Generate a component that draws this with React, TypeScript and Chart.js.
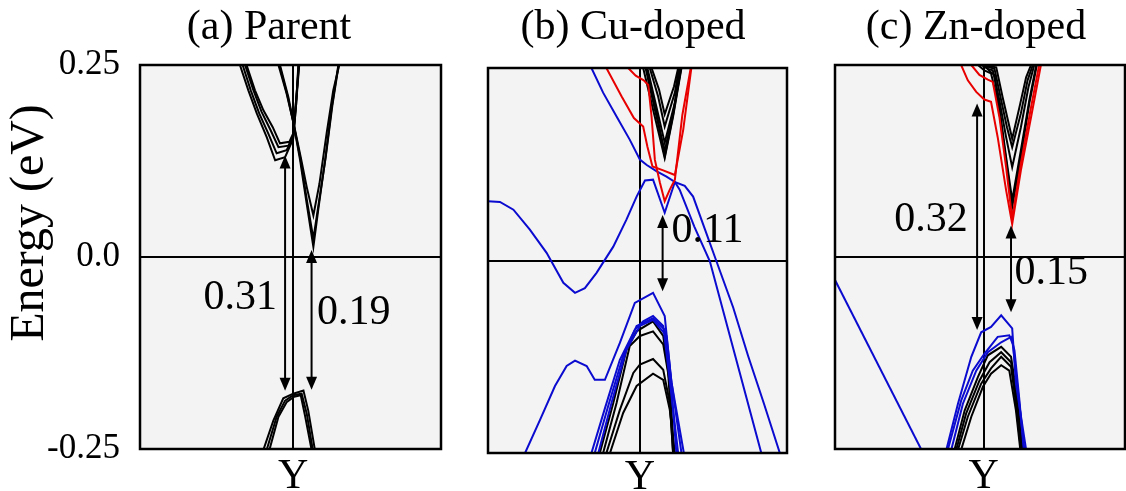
import React, { useEffect, useRef } from "react";
import { Chart, registerables } from "chart.js";

Chart.register(...registerables);

type Pt = [number, number];

// ---------- text / ticks ----------
const panelTitles = ["(a) Parent", "(b) Cu-doped", "(c) Zn-doped"];
const energyTicks = [0.25, 0, -0.25];
const energyTickLabels = ["0.25", "0.0", "-0.25"];
const kPointLabel = "Y";
const yAxisTitle = "Energy (eV)";
// position of the Y point on each panel's k-axis (k runs 0..100)
const kYPoint = [50.9, 50.8, 51.3];

// ---------- (a) Parent ----------
const parentCB_A1: Pt[] = [[46.0, 0.25], [48.7, 0.213], [50.9, 0.176], [53.2, 0.126], [55.4, 0.069], [57.6, 0.013], [59.2, 0.061], [61.5, 0.126], [63.7, 0.195], [65.9, 0.25]];
const parentCB_A2: Pt[] = [[46.3, 0.25], [49.0, 0.21], [51.0, 0.174], [53.3, 0.128], [55.4, 0.075], [57.6, 0.024], [59.3, 0.068], [61.7, 0.13], [63.9, 0.197], [66.0, 0.25]];
const parentCB_A3: Pt[] = [[46.5, 0.25], [49.3, 0.208], [51.2, 0.171], [53.4, 0.13], [55.4, 0.091], [57.6, 0.054], [59.6, 0.095], [62.0, 0.161], [64.2, 0.217], [66.2, 0.25]];
const parentCB_B1: Pt[] = [[33.2, 0.25], [36.0, 0.217], [38.8, 0.187], [42.1, 0.156], [44.9, 0.126], [48.2, 0.13], [50.9, 0.154], [51.7, 0.191], [52.4, 0.226], [52.9, 0.25]];
const parentCB_B2: Pt[] = [[34.1, 0.25], [36.8, 0.217], [39.6, 0.187], [42.6, 0.161], [45.4, 0.135], [48.7, 0.139], [50.9, 0.156], [51.9, 0.2], [52.6, 0.25]];
const parentCB_B3: Pt[] = [[34.9, 0.25], [37.7, 0.217], [40.4, 0.189], [43.4, 0.165], [46.0, 0.143], [49.3, 0.145], [50.9, 0.158], [52.0, 0.21], [52.7, 0.25]];
const parentCB_B4: Pt[] = [[35.4, 0.25], [38.2, 0.217], [41.0, 0.191], [44.1, 0.169], [46.5, 0.148], [49.6, 0.15], [50.9, 0.161], [52.1, 0.215], [52.8, 0.25]];
const parentVB_1: Pt[] = [[41.0, -0.251], [44.3, -0.213], [47.6, -0.184], [50.9, -0.178], [54.3, -0.174], [55.9, -0.2], [58.1, -0.251]];
const parentVB_2: Pt[] = [[42.1, -0.251], [45.4, -0.208], [48.2, -0.187], [50.9, -0.18], [53.7, -0.178], [55.4, -0.204], [57.4, -0.251]];
const parentVB_3: Pt[] = [[43.0, -0.251], [46.0, -0.208], [48.7, -0.189], [51.2, -0.182], [53.4, -0.18], [54.8, -0.206], [57.0, -0.251]];
// gap arrows: [k, E top, E bottom]
const parentGaps: [number, number, number][] = [[48.2, 0.132, -0.174], [57.0, 0.009, -0.173]];
const parentGapText = ["0.31", "0.19"];
// gap labels: [k anchor, E centre]
const parentGapPos: Pt[] = [[45.5, -0.053], [58.8, -0.073]];

// ---------- (b) Cu-doped ----------
const cuBlue1: Pt[] = [[0, 0.078], [4.0, 0.077], [8.5, 0.067], [14.0, 0.041], [19.6, 0.011], [25.2, -0.028], [29.1, -0.041], [32.4, -0.035], [36.3, -0.015], [41.9, 0.019], [46.3, 0.054], [49.7, 0.084], [52.5, 0.105], [55.2, 0.106], [59.1, 0.063], [62.5, 0.103], [65.8, 0.098], [68.6, 0.084], [72.5, 0.042], [76.4, 0], [82.0, -0.06], [87.0, -0.123], [92.3, -0.185], [97.6, -0.249]];
const cuBlue2: Pt[] = [[34.6, 0.251], [38.5, 0.219], [43.0, 0.188], [47.4, 0.158], [50.8, 0.132], [53.1, 0.125], [56.3, 0.117], [59.7, 0.11], [62.5, 0.103], [64.1, 0.093], [69.0, 0.045], [74.2, 0], [83.1, -0.129], [91.4, -0.249]];
const cuRed1: Pt[] = [[39.6, 0.251], [44.7, 0.214], [48.8, 0.186], [51.9, 0.175], [53.3, 0.149], [55.0, 0.123], [58.6, 0.118], [62.5, 0.112], [65.3, 0.171], [68.0, 0.251]];
const cuRed2: Pt[] = [[46.9, 0.251], [49.4, 0.241], [52.1, 0.235], [53.6, 0.229], [54.7, 0.188], [55.8, 0.132], [57.5, 0.102], [59.1, 0.078], [60.8, 0.093], [62.5, 0.106], [65.0, 0.19], [67.8, 0.251]];
const cuBlackCB1: Pt[] = [[51.9, 0.251], [55.2, 0.197], [59.1, 0.134], [61.9, 0.188], [64.7, 0.251]];
const cuBlackCB2: Pt[] = [[52.7, 0.251], [55.8, 0.197], [59.1, 0.143], [62.1, 0.197], [64.5, 0.251]];
const cuBlackCB3: Pt[] = [[53.3, 0.251], [56.3, 0.201], [59.1, 0.154], [62.5, 0.206], [64.1, 0.251]];
const cuBlackCB4: Pt[] = [[54.1, 0.251], [56.9, 0.214], [59.1, 0.175], [62.5, 0.219], [63.9, 0.251]];
const cuBlackCB5: Pt[] = [[54.7, 0.251], [57.2, 0.223], [59.1, 0.191], [62.2, 0.227], [63.6, 0.251]];
const cuBlackCB6: Pt[] = [[53.0, 0.251], [56.1, 0.199], [59.1, 0.136], [62.0, 0.192], [64.6, 0.251]];
const cuBlackVB1: Pt[] = [[37.4, -0.249], [41.9, -0.184], [46.3, -0.115], [49.7, -0.091], [55.2, -0.078], [58.6, -0.097], [60.2, -0.141], [61.9, -0.249]];
const cuBlackVB2: Pt[] = [[38.5, -0.249], [43.0, -0.184], [47.4, -0.11], [50.8, -0.097], [55.2, -0.091], [58.6, -0.108], [60.8, -0.158], [62.2, -0.249]];
const cuBlackVB3: Pt[] = [[39.6, -0.249], [44.1, -0.193], [48.6, -0.145], [50.8, -0.134], [55.2, -0.127], [58.6, -0.141], [60.8, -0.184], [61.9, -0.249]];
const cuBlackVB4: Pt[] = [[40.8, -0.249], [45.2, -0.197], [49.7, -0.162], [55.2, -0.146], [58.6, -0.154], [60.8, -0.193], [62.5, -0.249]];
const cuBlueVB1: Pt[] = [[12.4, -0.249], [17.4, -0.206], [22.4, -0.162], [26.3, -0.136], [29.1, -0.129], [33.0, -0.136], [35.7, -0.154], [39.1, -0.154], [44.1, -0.106], [49.1, -0.054], [55.2, -0.041], [59.1, -0.071], [60.8, -0.136], [63.0, -0.249]];
const cuBlueVB2: Pt[] = [[34.6, -0.249], [39.1, -0.191], [44.1, -0.128], [49.1, -0.089], [51.9, -0.078], [55.2, -0.071], [58.6, -0.084], [60.2, -0.136], [63.6, -0.249]];
const cuBlueVB3: Pt[] = [[35.7, -0.249], [40.2, -0.188], [45.2, -0.123], [49.7, -0.084], [55.2, -0.074], [59.1, -0.089], [60.8, -0.141], [64.7, -0.249]];
const cuBlueVB4: Pt[] = [[36.9, -0.249], [41.3, -0.184], [46.3, -0.115], [50.8, -0.084], [55.2, -0.076], [59.7, -0.097], [61.4, -0.158], [65.5, -0.249]];
const cuGaps: [number, number, number][] = [[58.4, 0.06, -0.039]];
const cuGapText = ["0.11"];
const cuGapPos: Pt[] = [[61.4, 0.039]];

// ---------- (c) Zn-doped ----------
const znRed1: Pt[] = [[43.5, 0.25], [45.8, 0.23], [48.7, 0.215], [51.5, 0.205], [53.8, 0.202], [56.1, 0.156], [59.0, 0.087], [61.1, 0.043], [64.1, 0.113], [67.6, 0.182], [71.0, 0.25]];
const znRed2: Pt[] = [[47.0, 0.25], [49.8, 0.237], [52.7, 0.231], [54.4, 0.228], [56.7, 0.182], [59.0, 0.117], [61.1, 0.05], [64.1, 0.122], [67.6, 0.195], [70.4, 0.25]];
const znBlackCB1: Pt[] = [[49.3, 0.25], [51.5, 0.243], [53.8, 0.239], [56.1, 0.204], [59.0, 0.126], [61.1, 0.065], [64.1, 0.13], [67.0, 0.2], [69.6, 0.25]];
const znBlackCB2: Pt[] = [[50.4, 0.25], [52.7, 0.245], [54.4, 0.243], [56.7, 0.204], [59.0, 0.156], [61.1, 0.117], [64.1, 0.169], [66.7, 0.221], [68.7, 0.25]];
const znBlackCB3: Pt[] = [[51.0, 0.25], [53.3, 0.247], [55.0, 0.245], [57.3, 0.204], [59.3, 0.169], [61.1, 0.143], [64.1, 0.187], [66.4, 0.23], [68.2, 0.25]];
const znBlackCB4: Pt[] = [[52.1, 0.25], [53.8, 0.248], [55.6, 0.247], [57.8, 0.208], [61.1, 0.154], [63.9, 0.2], [65.9, 0.234], [67.6, 0.25]];
const znBlackCB5: Pt[] = [[51.5, 0.25], [53.6, 0.241], [55.0, 0.237], [56.7, 0.195], [59.0, 0.13], [61.1, 0.074], [64.1, 0.139], [67.0, 0.204], [69.4, 0.25]];
const znBlueLine: Pt[] = [[0, -0.03], [29.8, -0.251]];
const znBlueVB1: Pt[] = [[38.4, -0.251], [42.4, -0.191], [47.0, -0.13], [50.4, -0.098], [53.8, -0.091], [57.3, -0.076], [61.1, -0.093], [62.4, -0.165], [65.9, -0.251]];
const znBlueVB2: Pt[] = [[38.9, -0.251], [43.5, -0.187], [47.5, -0.148], [51.5, -0.126], [56.1, -0.104], [60.1, -0.102], [61.3, -0.113], [62.8, -0.165], [65.3, -0.251]];
const znBlueVB3: Pt[] = [[40.1, -0.251], [44.1, -0.191], [48.7, -0.148], [52.7, -0.124], [57.3, -0.111], [60.7, -0.104], [61.9, -0.122], [63.6, -0.187], [65.1, -0.251]];
const znBlackVB1: Pt[] = [[41.2, -0.251], [44.7, -0.2], [49.3, -0.156], [52.7, -0.128], [57.3, -0.117], [60.7, -0.13], [63.0, -0.187], [64.7, -0.251]];
const znBlackVB2: Pt[] = [[41.8, -0.251], [45.2, -0.204], [49.8, -0.161], [53.3, -0.137], [57.3, -0.124], [60.7, -0.137], [62.8, -0.191], [64.4, -0.251]];
const znBlackVB3: Pt[] = [[42.4, -0.251], [45.8, -0.208], [50.4, -0.165], [53.8, -0.145], [57.3, -0.13], [60.7, -0.143], [62.4, -0.191], [64.1, -0.251]];
const znBlackVB4: Pt[] = [[43.5, -0.251], [47.0, -0.208], [51.0, -0.169], [53.8, -0.152], [57.3, -0.141], [60.1, -0.148], [62.4, -0.2], [63.9, -0.251]];
const znGaps: [number, number, number][] = [[49.0, 0.2, -0.095], [60.7, 0.041, -0.072]];
const znGapText = ["0.32", "0.15"];
const znGapPos: Pt[] = [[45.8, 0.048], [61.9, -0.021]];

// ---------- styling ----------
const SERIF = '"Liberation Serif", "Times New Roman", Times, serif';
const BLACK = "#000000";
const BLUE = "#0b0bd0";
const RED = "#e80000";
const PANEL_BG = "#f3f3f3";

type Band = { pts: Pt[]; color: string };
type PanelCfg = {
  title: string;
  kY: number;
  left: number;
  width: number;
  pad: { left: number; right: number; top: number };
  yWidth: number;
  xHeight: number;
  xLabelPad: number;
  yMin: number;
  yMax: number;
  showYLabels: boolean;
  titleShift: number;
  bands: Band[];
  gaps: [number, number, number][];
  gapText: string[];
  gapPos: Pt[];
  gapAlign: CanvasTextAlign[];
};

const b = (pts: Pt[], color: string): Band => ({ pts, color });

const panels: PanelCfg[] = [
  {
    title: panelTitles[0], kY: kYPoint[0], left: 0, width: 450,
    pad: { left: 0, right: 9, top: 65 }, yWidth: 140, xHeight: 42, xLabelPad: 3,
    yMin: -0.25, yMax: 0.25, showYLabels: true, titleShift: -21.5,
    bands: [
      b(parentCB_A1, BLACK), b(parentCB_A2, BLACK), b(parentCB_A3, BLACK),
      b(parentCB_B1, BLACK), b(parentCB_B2, BLACK), b(parentCB_B3, BLACK), b(parentCB_B4, BLACK),
      b(parentVB_1, BLACK), b(parentVB_2, BLACK), b(parentVB_3, BLACK),
    ],
    gaps: parentGaps, gapText: parentGapText, gapPos: parentGapPos, gapAlign: ["right", "left"],
  },
  {
    title: panelTitles[1], kY: kYPoint[1], left: 480, width: 320,
    pad: { left: 8, right: 13, top: 68 }, yWidth: 0, xHeight: 38, xLabelPad: 0,
    yMin: -0.249, yMax: 0.251, showYLabels: false, titleShift: -4.5,
    bands: [
      b(cuRed1, RED), b(cuRed2, RED),
      b(cuBlue1, BLUE), b(cuBlue2, BLUE),
      b(cuBlueVB1, BLUE), b(cuBlueVB2, BLUE), b(cuBlueVB3, BLUE), b(cuBlueVB4, BLUE),
      b(cuBlackCB1, BLACK), b(cuBlackCB2, BLACK), b(cuBlackCB3, BLACK), b(cuBlackCB4, BLACK), b(cuBlackCB5, BLACK), b(cuBlackCB6, BLACK),
      b(cuBlackVB1, BLACK), b(cuBlackVB2, BLACK), b(cuBlackVB3, BLACK), b(cuBlackVB4, BLACK),
    ],
    gaps: cuGaps, gapText: cuGapText, gapPos: cuGapPos, gapAlign: ["left"],
  },
  {
    title: panelTitles[2], kY: kYPoint[2], left: 830, width: 296,
    pad: { left: 5, right: 1, top: 65 }, yWidth: 0, xHeight: 42, xLabelPad: 3,
    yMin: -0.25, yMax: 0.25, showYLabels: false, titleShift: -4,
    bands: [
      b(znRed1, RED), b(znRed2, RED),
      b(znBlackCB1, BLACK), b(znBlackCB2, BLACK), b(znBlackCB3, BLACK), b(znBlackCB4, BLACK), b(znBlackCB5, BLACK),
      b(znBlueLine, BLUE), b(znBlueVB1, BLUE), b(znBlueVB2, BLUE), b(znBlueVB3, BLUE),
      b(znBlackVB1, BLACK), b(znBlackVB2, BLACK), b(znBlackVB3, BLACK), b(znBlackVB4, BLACK),
    ],
    gaps: znGaps, gapText: znGapText, gapPos: znGapPos, gapAlign: ["right", "left"],
  },
];

function makeDecorPlugin(p: PanelCfg, isFirst: boolean) {
  return {
    id: "decor",
    beforeDraw(chart: any) {
      const { ctx, chartArea } = chart;
      const { left, top, right, bottom } = chartArea;
      ctx.save();
      ctx.fillStyle = PANEL_BG;
      ctx.fillRect(left, top, right - left, bottom - top);
      ctx.restore();
    },
    afterDraw(chart: any) {
      const { ctx, chartArea, scales } = chart;
      const { left, top, right, bottom } = chartArea;
      const xs = scales.x;
      const ys = scales.y;
      ctx.save();
      // frame
      ctx.strokeStyle = BLACK;
      ctx.lineWidth = 2.5;
      ctx.strokeRect(left, top, right - left, bottom - top);

      // gap arrows
      const headL = 13;
      const headW = 5.5;
      ctx.fillStyle = BLACK;
      ctx.lineWidth = 2;
      p.gaps.forEach(([k, eTop, eBot]) => {
        const x = xs.getPixelForValue(k);
        const y1 = ys.getPixelForValue(eTop);
        const y2 = ys.getPixelForValue(eBot);
        ctx.beginPath();
        ctx.moveTo(x, y1 + headL - 1);
        ctx.lineTo(x, y2 - headL + 1);
        ctx.stroke();
        ctx.beginPath();
        ctx.moveTo(x, y1);
        ctx.lineTo(x - headW, y1 + headL);
        ctx.lineTo(x + headW, y1 + headL);
        ctx.closePath();
        ctx.fill();
        ctx.beginPath();
        ctx.moveTo(x, y2);
        ctx.lineTo(x - headW, y2 - headL);
        ctx.lineTo(x + headW, y2 - headL);
        ctx.closePath();
        ctx.fill();
      });

      // gap labels
      ctx.font = `42px ${SERIF}`;
      ctx.textBaseline = "middle";
      p.gapText.forEach((t, i) => {
        const [k, e] = p.gapPos[i];
        ctx.textAlign = p.gapAlign[i];
        ctx.fillText(t, xs.getPixelForValue(k), ys.getPixelForValue(e));
      });

      // panel title
      ctx.font = `42px ${SERIF}`;
      ctx.textAlign = "center";
      ctx.textBaseline = "alphabetic";
      ctx.fillText(p.title, (left + right) / 2 + p.titleShift, 39);

      // y-axis title (first panel only)
      if (isFirst) {
        ctx.translate(30, top + 158);
        ctx.rotate(-Math.PI / 2);
        ctx.font = `48px ${SERIF}`;
        ctx.textAlign = "center";
        ctx.textBaseline = "middle";
        ctx.fillText(yAxisTitle, 0, 0);
      }
      ctx.restore();
    },
  };
}

function BandPanel({ p, isFirst }: { p: PanelCfg; isFirst: boolean }) {
  const ref = useRef<HTMLCanvasElement | null>(null);
  useEffect(() => {
    if (!ref.current) return;
    const chart = new Chart(ref.current, {
      type: "line",
      data: {
        datasets: p.bands.map((band) => ({
          data: band.pts.map(([x, y]) => ({ x, y })),
          borderColor: band.color,
          borderWidth: 2,
          pointRadius: 0,
          fill: false,
          tension: 0,
        })),
      },
      options: {
        animation: false,
        responsive: false,
        events: [],
        layout: { padding: { left: p.pad.left, right: p.pad.right, top: p.pad.top, bottom: 0 } },
        plugins: { legend: { display: false }, tooltip: { enabled: false }, title: { display: false } },
        scales: {
          x: {
            type: "linear",
            min: 0,
            max: 100,
            border: { display: false },
            grid: { color: BLACK, lineWidth: 2, drawTicks: false },
            afterBuildTicks: (s: any) => {
              s.ticks = [{ value: p.kY }];
            },
            afterFit: (s: any) => {
              s.height = p.xHeight;
            },
            ticks: {
              autoSkip: false,
              maxRotation: 0,
              padding: p.xLabelPad,
              color: BLACK,
              font: { family: SERIF, size: 42 },
              callback: () => kPointLabel,
            },
          },
          y: {
            type: "linear",
            min: p.yMin,
            max: p.yMax,
            border: { display: false },
            grid: { color: BLACK, lineWidth: 2, drawTicks: false },
            afterBuildTicks: (s: any) => {
              s.ticks = (p.showYLabels ? energyTicks : [0]).map((v) => ({ value: v }));
            },
            afterFit: (s: any) => {
              s.width = p.yWidth;
            },
            ticks: {
              display: p.showYLabels,
              padding: 20,
              color: BLACK,
              font: { family: SERIF, size: 35 },
              callback: (v: any) => {
                const i = energyTicks.indexOf(Number(v));
                return i >= 0 ? energyTickLabels[i] : "";
              },
            },
          },
        },
      },
      plugins: [makeDecorPlugin(p, isFirst)],
    } as any);
    return () => chart.destroy();
  }, [p, isFirst]);
  return (
    <canvas
      ref={ref}
      width={p.width}
      height={491}
      style={{ position: "absolute", left: p.left, top: 0, width: p.width, height: 491, display: "block" }}
    />
  );
}

export default function App() {
  return (
    <div style={{ position: "fixed", left: 0, top: 0, width: 1126, height: 491, background: "#ffffff", overflow: "hidden" }}>
      {panels.map((p, i) => (
        <BandPanel key={i} p={p} isFirst={i === 0} />
      ))}
    </div>
  );
}
